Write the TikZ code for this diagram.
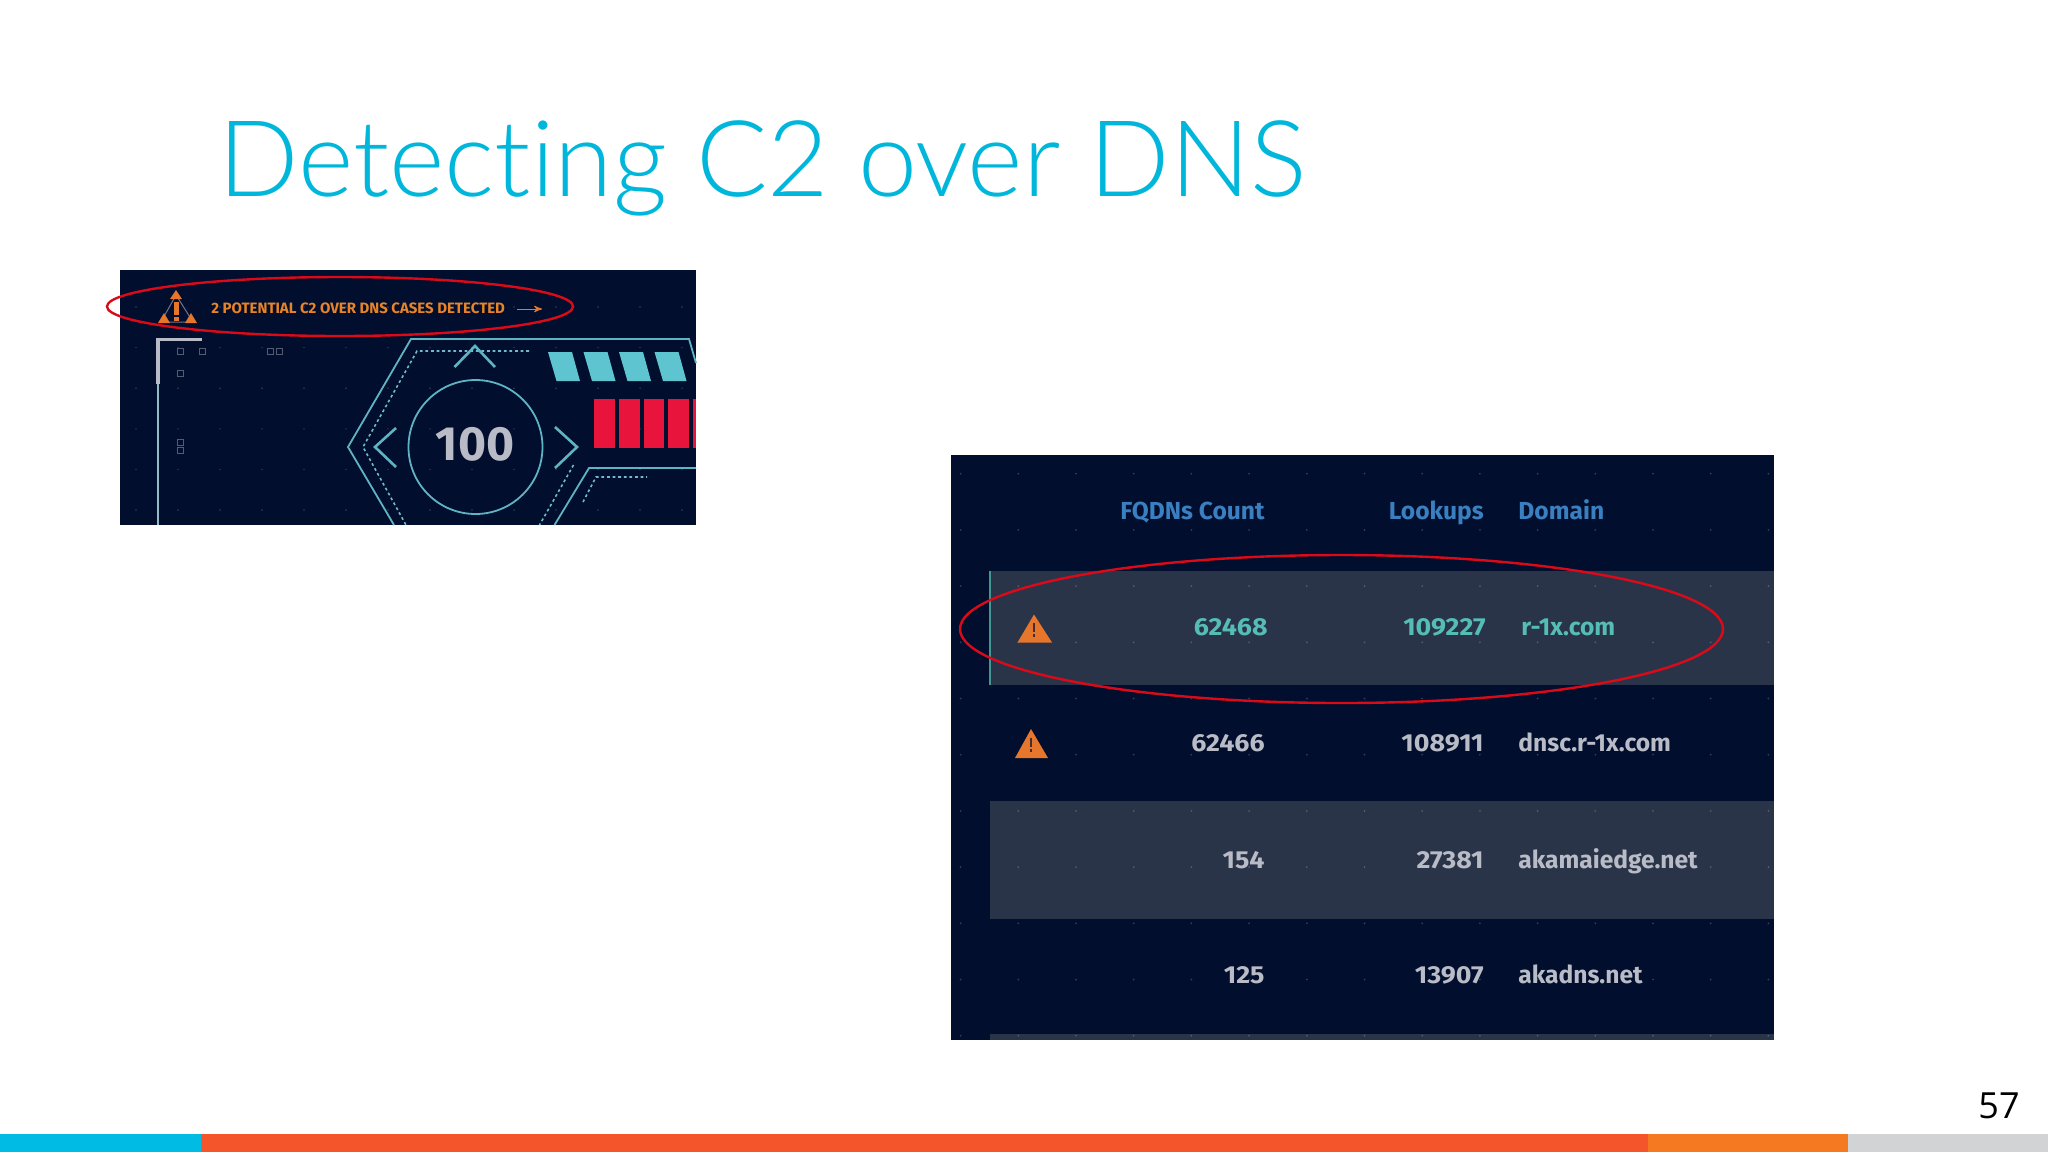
\documentclass[tikz,border=0pt]{standalone}
\usepackage{xcolor}
\usepackage{fontspec}
\usepackage{tikz}
\usetikzlibrary{arrows}
\setmainfont{Fira Sans}
\newfontfamily\titlefont[Ligatures=NoCommon]{Lato Light}
\newfontfamily\pagefont{Open Sans}
\newfontfamily\digitfont[FakeStretch=1.09]{Fira Sans}
\definecolor{panelbg}{HTML}{020E2D}
\definecolor{rowbg}{HTML}{2A3449}
\definecolor{hudline}{HTML}{5FB4C4}
\definecolor{hudcyan}{HTML}{5EC4D0}
\definecolor{hudred}{HTML}{E8143C}
\definecolor{warnorange}{HTML}{E5762B}
\definecolor{ringred}{HTML}{DC0A18}
\definecolor{titleblue}{HTML}{00B7DB}
\definecolor{headblue}{HTML}{3A7FC0}
\definecolor{rowteal}{HTML}{55BDB5}
\definecolor{rowgrey}{HTML}{B9BCC6}
\definecolor{bandblue}{HTML}{00BCE4}
\definecolor{bandred}{HTML}{F4552B}
\definecolor{bandorange}{HTML}{F47920}
\definecolor{bandgrey}{HTML}{D1D3D4}
\tikzset{
    titletext/.style={anchor=base west,inner sep=0pt,text=titleblue,font=\titlefont\fontsize{53}{60}\selectfont},
    alerttext/.style={anchor=base west,inner sep=0pt,text=warnorange!90!yellow,font=\fontsize{7.5}{9}\selectfont\bfseries},
    scoretext/.style={inner sep=0pt,text=rowgrey,font=\fontsize{24}{28}\selectfont\bfseries},
    celltext/.style={inner sep=0pt,font=\fontsize{12.3}{15}\selectfont\bfseries},
    numcell/.style={celltext,anchor=base east},
    digitcell/.style={numcell,font=\digitfont\fontsize{12.3}{15}\selectfont\bfseries},
    domcell/.style={celltext,anchor=base west},
    hudstroke/.style={draw=hudline,line width=0.9pt},
    huddash/.style={draw=hudline!90!white,line width=0.8pt,dash pattern=on 1.4pt off 1.4pt},
    tinybox/.style={draw=rowgrey!45!panelbg,line width=0.4pt,minimum size=3pt,inner sep=0pt},
    griddot/.style={fill=white,fill opacity=0.2},
    warnmark/.style={fill=warnorange},
    redring/.style={draw=ringred,line width=1.2pt}
}
\begin{document}
\begin{tikzpicture}[x=0.5pt,y=-0.5pt,>=stealth']
\useasboundingbox (0,0) rectangle (2048,1152);

\node[titletext] (title) at (218,196) {Detecting C2 over DNS};

\fill[panelbg] (120,270) rectangle (696,525);
\foreach \x in {136,178,...,690}
  \foreach \y in {307,347.6,...,515}
    \fill[griddot] (\x,\y) circle (0.8);

\draw[draw=hudline!40!rowgrey,line width=0.7pt] (158,384) -- (158,525);
\draw[draw=rowgrey,line width=1.7pt] (158,384) -- (158,339.5) -- (202,339.5);
\node[tinybox] (boxa) at (180,351) {};
\node[tinybox] (boxb) at (202,351) {};
\node[tinybox] (boxc) at (270,351) {};
\node[tinybox] (boxd) at (279,351) {};
\node[tinybox] (boxe) at (180,373) {};
\node[tinybox] (boxf) at (180,442) {};
\node[tinybox] (boxg) at (180,450) {};

\draw[hudstroke] (696,363) -- (689,339) -- (411,339) -- (348,447) -- (394,525);
\draw[huddash] (529,351) -- (417,351) -- (363,447) -- (406,525);
\draw[huddash] (573.5,465) -- (539.5,525);
\draw[hudstroke] (554.5,525) -- (589,468) -- (696,468);
\draw[huddash] (583,502) -- (596,477) -- (647,477);
\draw[hudstroke] (475.5,447) circle (67);
\draw[hudstroke,line width=1.3pt] (454.5,367) -- (475,346) -- (495,367);
\draw[hudstroke,line width=1.3pt] (396,428) -- (375,447) -- (396,467);
\draw[hudstroke,line width=1.3pt] (555,427) -- (577,447) -- (555,468);
\node[scoretext] (score) at (475,444) {100};

\foreach \x in {0,35.5,71,106.5}
  \fill[hudcyan] (548+\x,352) -- (572+\x,352) -- (580+\x,381) -- (556.5+\x,381) -- cycle;
\fill[hudred] (594,399) rectangle (615,448);
\fill[hudred] (619,399) rectangle (639.5,448);
\fill[hudred] (644,399) rectangle (664,448);
\fill[hudred] (668,399) rectangle (689,448);
\fill[hudred] (693,399) rectangle (696,448);

\draw[draw=rowgrey!60!panelbg,line width=0.5pt] (176,295) -- (161,322) -- (193,322) -- cycle;
\fill[warnmark] (176,290) -- (182,299) -- (170,299) -- cycle;
\fill[warnmark] (164,313) -- (170,323) -- (158,323) -- cycle;
\fill[warnmark] (191,313) -- (197,323) -- (185,323) -- cycle;
\fill[warnmark] (173.5,302) rectangle (178.5,315);
\fill[warnmark] (173.5,317) rectangle (178.5,321);
\node[alerttext] (alert) at (211,313) {2 POTENTIAL C2 OVER DNS CASES DETECTED};
\coordinate (arrowa) at (517,309);
\coordinate (arrowb) at (542,309);
\draw[->,draw=warnorange,line width=0.5pt] (arrowa) -- (arrowb);
\draw[redring] (340,306.5) ellipse (233 and 29.5);

\fill[panelbg] (951,454.5) rectangle (1774,1039.5);
\fill[rowbg] (990,570.5) rectangle (1774,685);
\fill[rowbg] (990,801) rectangle (1774,918.5);
\fill[rowbg] (990,1034) rectangle (1774,1039.5);
\draw[draw=rowteal!80!black,line width=1pt] (990,570.5) -- (990,685);
\foreach \x in {960.6,1018.3,...,1774}
  \foreach \y in {473.7,529.9,...,1039}
    \fill[griddot] (\x,\y) circle (1);

\node[numcell,text=headblue] (headcount) at (1265,519.6) {FQDNs Count};
\node[numcell,text=headblue] (headlook) at (1484,519.6) {Lookups};
\node[domcell,text=headblue] (headdom) at (1518,519.6) {Domain};

\fill[warnmark] (1034,614.5) -- (1052,642.5) -- (1017.5,642.5) -- cycle;
\fill[panelbg!70!warnorange] (1032.6,623) rectangle (1035.4,632);
\fill[panelbg!70!warnorange] (1032.6,634) rectangle (1035.4,637);
\node[digitcell,text=rowteal] (counta) at (1268,635) {62468};
\node[digitcell,text=rowteal] (looka) at (1486,635) {109227};
\node[domcell,text=rowteal] (doma) at (1521,635) {r-1x.com};

\fill[warnmark] (1031,729) -- (1048,758) -- (1015,758) -- cycle;
\fill[panelbg!70!warnorange] (1029.6,738) rectangle (1032.4,747);
\fill[panelbg!70!warnorange] (1029.6,749) rectangle (1032.4,752);
\node[digitcell,text=rowgrey] (countb) at (1265,751) {62466};
\node[digitcell,text=rowgrey] (lookb) at (1484,751) {108911};
\node[domcell,text=rowgrey] (domb) at (1518,751) {dnsc.r-1x.com};

\node[digitcell,text=rowgrey] (countc) at (1265,868) {154};
\node[digitcell,text=rowgrey] (lookc) at (1484,868) {27381};
\node[domcell,text=rowgrey] (domc) at (1518,868) {akamaiedge.net};

\node[digitcell,text=rowgrey] (countd) at (1265,983) {125};
\node[digitcell,text=rowgrey] (lookd) at (1484,983) {13907};
\node[domcell,text=rowgrey] (domd) at (1518,983) {akadns.net};

\draw[redring] (1341.5,629) ellipse (381.5 and 74);

\node[anchor=base east,inner sep=0pt,text=black,font=\pagefont\fontsize{18}{22}\selectfont] (pagenum) at (2020,1118) {57};

\fill[bandblue] (0,1134) rectangle (201,1152);
\fill[bandred] (201,1134) rectangle (1648,1152);
\fill[bandorange] (1648,1134) rectangle (1848,1152);
\fill[bandgrey] (1848,1134) rectangle (2048,1152);

\end{tikzpicture}
\end{document}
